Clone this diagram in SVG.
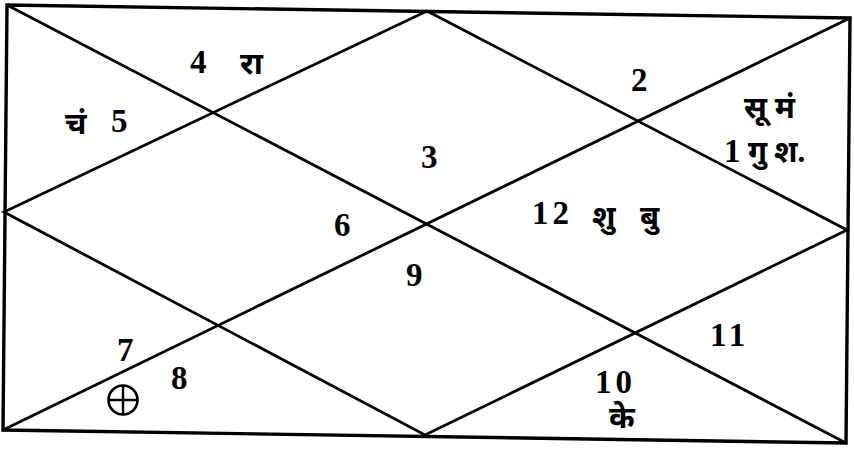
<svg xmlns="http://www.w3.org/2000/svg" width="854" height="449" viewBox="0 0 854 449">
<style>
.ln{stroke:#000;stroke-width:2.8;fill:none;stroke-linecap:round}
.fr{stroke:#000;stroke-width:3.4;fill:none;stroke-linejoin:miter}
text{font-family:"Liberation Serif","Noto Serif","Noto Sans",serif;font-weight:bold;font-size:33px;fill:#000}
.dv{font-size:31px}
.sp{letter-spacing:4px}
</style>
<rect width="854" height="449" fill="#fff"/>
<g id="connectors">
<path class="fr" d="M7,5 L850,18 L846,443 L3,430 Z"/>
<line class="ln" x1="7" y1="5" x2="846" y2="443"/>
<line class="ln" x1="850" y1="18" x2="3" y2="430"/>
<path class="ln" d="M427,11 L847,230 L425,435 L4,212 Z"/>
</g>
<g id="house1"><text x="744" y="118" class="dv">सू मं</text><text x="724" y="162">1</text><text x="748" y="162" class="dv">गु</text><text x="774" y="162" class="dv">श.</text></g>
<g id="house2"><text x="631" y="91">2</text></g>
<g id="house3"><text x="421" y="168">3</text></g>
<g id="house4"><text x="190" y="73">4</text><text x="240" y="74" class="dv">रा</text></g>
<g id="house5"><text x="65" y="134" class="dv">चं</text><text x="111" y="132">5</text></g>
<g id="house6"><text x="334" y="236">6</text></g>
<g id="house9"><text x="406" y="286">9</text></g>
<g id="house12"><text x="532" y="224" class="sp">12</text><text x="592" y="227" class="dv">शु</text><text x="640" y="227" class="dv">बु</text></g>
<g id="house7"><text x="117" y="361">7</text></g>
<g id="house8"><text x="171" y="389">8</text><g><circle cx="123" cy="400" r="14.5" fill="none" stroke="#000" stroke-width="2.6"/><line x1="108.5" y1="400" x2="137.5" y2="400" stroke="#000" stroke-width="2.4"/><line x1="123" y1="385.5" x2="123" y2="414.5" stroke="#000" stroke-width="2.4"/></g></g>
<g id="house11"><text x="710" y="346" class="sp">11</text></g>
<g id="house10"><text x="595" y="393" class="sp">10</text><text x="609" y="428" class="dv">के</text></g>
</svg>
